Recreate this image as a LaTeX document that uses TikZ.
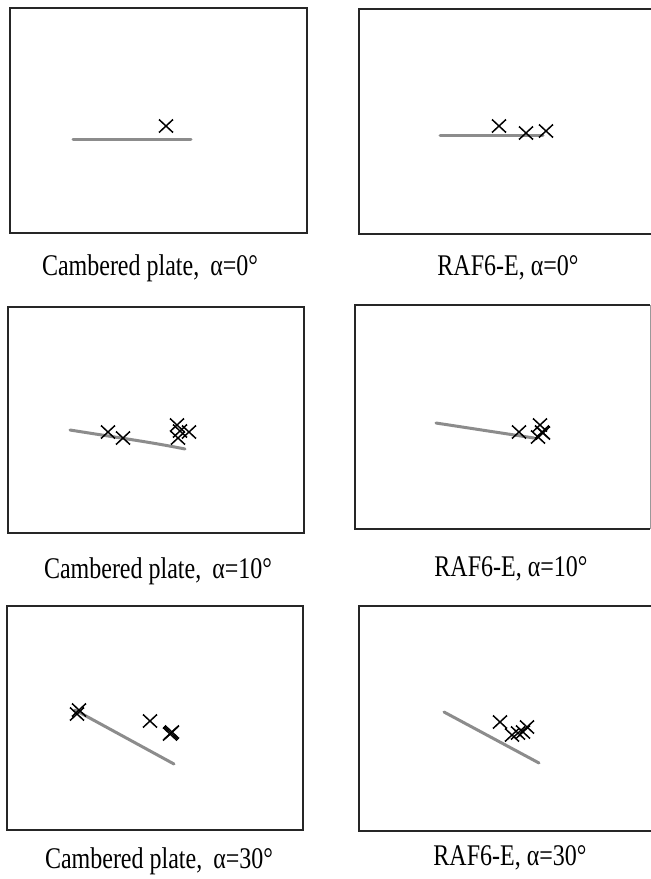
\documentclass[tikz,border=0pt]{standalone}
\usepackage{fontspec}
\setmainfont{Liberation Serif}
\newfontfamily\lblfont[FakeStretch=0.8]{Liberation Serif}
\begin{document}
\begin{tikzpicture}[x=1pt,y=-1pt,
  frame/.style={draw=black!85,line width=1.3pt},
  plate/.style={draw=black!45,line width=3pt,line cap=round},
  xm/.style={draw=black,line width=1.5pt},
  lbl/.style={font=\lblfont\fontsize{30}{34}\selectfont,inner sep=0pt}]
\useasboundingbox[fill=white] (0,0) rectangle (651,879);
\def\xmark#1#2{\draw[xm] (#1-7,#2-6.5) -- (#1+7,#2+6.5) (#1-7,#2+6.5) -- (#1+7,#2-6.5);}
% Panel 1
\draw[frame] (10,8) rectangle (307,233);
\draw[plate] (73,139) -- (191,139);
\xmark{166}{126}
\node[lbl] (l1) at (150,268) {Cambered plate,\, α=0°};
% Panel 2
\draw[frame] (651,9) -- (359,9) -- (359,234) -- (651,234);
\draw[plate] (440,135) -- (543,135);
\xmark{499}{126}\xmark{526}{133}\xmark{546}{131}
\node[lbl] (l2) at (508,268) {RAF6-E, α=0°};
% Panel 3
\draw[frame] (8,307) rectangle (304,533);
\draw[plate] (70,430) .. controls (120,438) and (150,442) .. (185,449);
\xmark{108}{432}\xmark{123}{438}
\xmark{177}{425}\xmark{180}{431}\xmark{189}{432}\xmark{178}{438}
\node[lbl] (l3) at (158,571) {Cambered plate,\, α=10°};
% Panel 4
\draw[frame] (650,305) -- (355,305) -- (355,529) -- (650,529);
\draw[draw=black!40,line width=1pt] (650,305) -- (650,529);
\draw[plate] (436,423) -- (534,438);
\xmark{519}{432}
\xmark{540}{425}\xmark{542}{432}\xmark{538}{437}\xmark{543}{433}
\node[lbl] (l4) at (511,569) {RAF6-E, α=10°};
% Panel 5
\draw[frame] (7,606) rectangle (303,830);
\draw[plate] (75,710) -- (174,764);
\xmark{77}{714}\xmark{79}{710}
\xmark{150}{721}
\xmark{171}{733}\xmark{172}{732}\xmark{170}{734}
\node[lbl] (l5) at (159,861) {Cambered plate,\, α=30°};
% Panel 6
\draw[frame] (651,606) -- (359,606) -- (359,831) -- (651,831);
\draw[plate] (444,712) -- (539,763);
\xmark{500}{722}\xmark{512}{735}\xmark{518}{733}\xmark{523}{732}\xmark{527}{727}
\node[lbl] (l6) at (510,858) {RAF6-E, α=30°};
\end{tikzpicture}
\end{document}
